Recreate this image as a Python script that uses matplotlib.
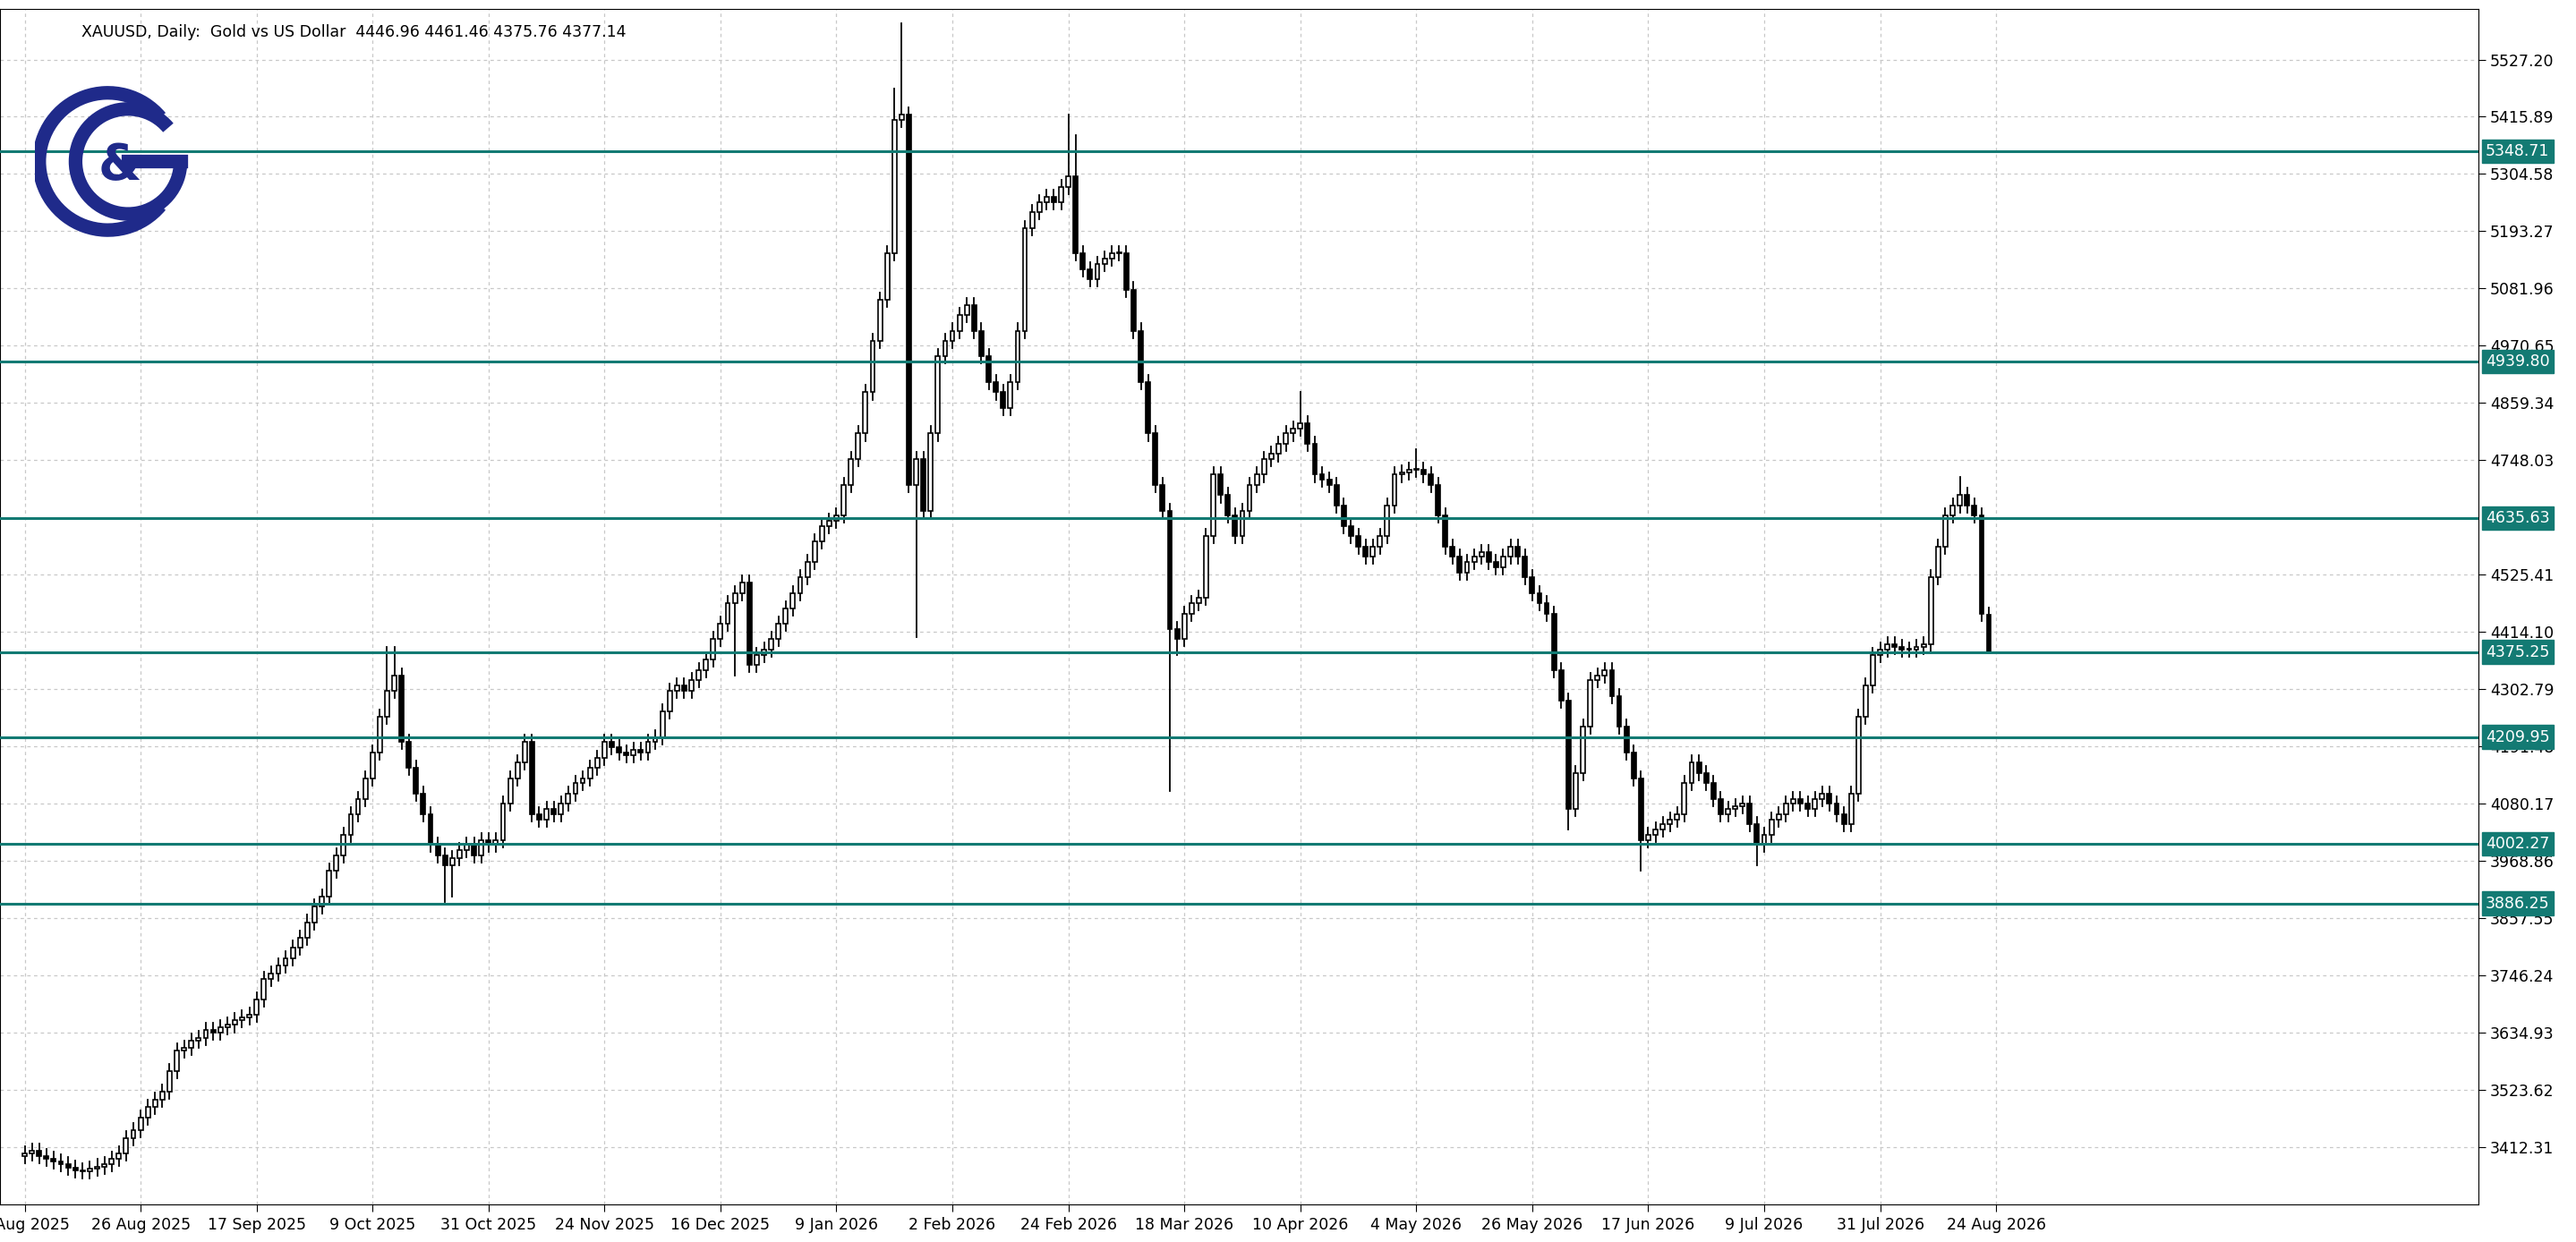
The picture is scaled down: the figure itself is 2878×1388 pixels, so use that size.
import numpy as np
import matplotlib
matplotlib.use("Agg")
import matplotlib.pyplot as plt
from matplotlib.patches import Rectangle, Arc

# closing prices, daily XAUUSD
closes = [
    3400, 3405, 3395, 3390, 3385, 3380, 3372, 3368, 3365, 3370,
    3375, 3380, 3390, 3400, 3430, 3445, 3470, 3490, 3505, 3520,
    3560, 3600, 3605, 3620, 3625, 3640, 3635, 3645, 3650, 3660,
    3665, 3670, 3700, 3740, 3750, 3765, 3780, 3800, 3820, 3850,
    3880, 3900, 3950, 3980, 4020, 4060, 4090, 4130, 4180, 4250,
    4300, 4330, 4200, 4150, 4100, 4060, 4000, 3980, 3960, 3975,
    3990, 4000, 3980, 4010, 4000, 4010, 4080, 4130, 4160, 4200,
    4060, 4050, 4070, 4060, 4080, 4100, 4120, 4130, 4150, 4170,
    4200, 4190, 4180, 4175, 4185, 4180, 4200, 4210, 4260, 4300,
    4310, 4300, 4320, 4340, 4360, 4400, 4430, 4470, 4490, 4510,
    4350, 4370, 4380, 4400, 4430, 4460, 4490, 4520, 4550, 4590,
    4620, 4630, 4640, 4700, 4750, 4800, 4880, 4980, 5060, 5150,
    5410, 5420, 4700, 4750, 4650, 4800, 4950, 4980, 5000, 5030,
    5050, 5000, 4950, 4900, 4880, 4850, 4900, 5000, 5200, 5230,
    5250, 5260, 5250, 5280, 5300, 5150, 5120, 5100, 5130, 5140,
    5150, 5150, 5080, 5000, 4900, 4800, 4700, 4650, 4420, 4400,
    4450, 4470, 4480, 4600, 4720, 4680, 4640, 4600, 4650, 4700,
    4720, 4750, 4760, 4780, 4800, 4810, 4820, 4780, 4720, 4710,
    4700, 4660, 4620, 4600, 4580, 4560, 4580, 4600, 4660, 4720,
    4725, 4730, 4730, 4720, 4700, 4640, 4580, 4560, 4530, 4550,
    4560, 4570, 4550, 4540, 4560, 4580, 4560, 4520, 4490, 4470,
    4450, 4340, 4280, 4070, 4140, 4230, 4320, 4330, 4340, 4290,
    4230, 4180, 4130, 4010, 4020, 4030, 4040, 4050, 4060, 4120,
    4160, 4140, 4120, 4090, 4060, 4070, 4075, 4080, 4040, 4000,
    4020, 4050, 4060, 4080, 4090, 4080, 4070, 4090, 4100, 4080,
    4060, 4040, 4100, 4250, 4310, 4370, 4380, 4390, 4385, 4380,
    4380, 4385, 4390, 4520, 4580, 4640, 4660, 4680, 4660, 4640,
    4450, 4377.14,
]
first_open = 3395
last_ohlc = [4446.96, 4461.46, 4375.76, 4377.14]
# notable wicks: index -> high / low
big_highs = {50: 4385, 51: 4385, 120: 5470, 121: 5597, 144: 5420, 145: 5380, 176: 4880, 192: 4770, 267: 4715}
big_lows = {58: 3890, 59: 3900, 123: 4405, 124: 4650, 158: 4105, 159: 4370, 213: 4030, 223: 3950, 239: 3960, 98: 4330}

levels = [5348.71, 4939.80, 4635.63, 4375.25, 4209.95, 4002.27, 3886.25]
price_ticks = [3412.31, 3523.62, 3634.93, 3746.24, 3857.55, 3968.86, 4080.17, 4191.48,
               4302.79, 4414.10, 4525.41, 4748.03, 4859.34, 4970.65, 5081.96,
               5193.27, 5304.58, 5415.89, 5527.20]
date_labels = ["4 Aug 2025", "26 Aug 2025", "17 Sep 2025", "9 Oct 2025", "31 Oct 2025",
               "24 Nov 2025", "16 Dec 2025", "9 Jan 2026", "2 Feb 2026", "24 Feb 2026",
               "18 Mar 2026", "10 Apr 2026", "4 May 2026", "26 May 2026", "17 Jun 2026",
               "9 Jul 2026", "31 Jul 2026", "24 Aug 2026"]

teal = "#137a73"
fig = plt.figure(figsize=(28.78, 13.88), dpi=100)
ax = fig.add_axes([0.0, 0.03, 0.962, 0.963])

n = len(closes)
opens = [first_open] + closes[:-1]
opens[-1] = last_ohlc[0]
for i in range(n):
    o, c = opens[i], closes[i]
    hi = max(o, c) + 14
    lo = min(o, c) - 14
    if i == n - 1:
        hi, lo = last_ohlc[1], last_ohlc[2]
    hi = max(hi, big_highs.get(i, hi))
    lo = min(lo, big_lows.get(i, lo))
    ax.plot([i, i], [lo, hi], color="black", lw=1.3, zorder=2)
    bull = c >= o
    ax.add_patch(Rectangle((i - 0.3, min(o, c)), 0.6, max(abs(c - o), 1.5),
                           facecolor="white" if bull else "black",
                           edgecolor="black", lw=1.2, zorder=3))

for lv in levels:
    ax.axhline(lv, color=teal, lw=2.2, zorder=4)

ax.set_xlim(-3.4, 338.5)
ax.set_ylim(3300.5, 5626)
ax.grid(True, color="#c8c8c8", ls=(0, (3, 3)), lw=0.9)
ax.set_xticks(np.arange(len(date_labels)) * 16)
ax.set_xticklabels(date_labels, fontsize=12.5)
ax.yaxis.tick_right()
ax.set_yticks(price_ticks)
ax.set_yticklabels([f"{t:.2f}" for t in price_ticks], fontsize=12.5)
ax.tick_params(length=6, color="black")
for lv in levels:
    ax.text(1.003, lv, f"{lv:.2f}", transform=ax.get_yaxis_transform(), fontsize=12.5,
            color="white", va="center", ha="left", zorder=6,
            bbox=dict(boxstyle="square,pad=0.25", fc=teal, ec=teal))
for s in ax.spines.values():
    s.set_color("black")

ax.text(0.033, 0.987, "XAUUSD, Daily:  Gold vs US Dollar  4446.96 4461.46 4375.76 4377.14",
        transform=ax.transAxes, fontsize=12.5, va="top", ha="left")

# logo
lax = fig.add_axes([0.01, 0.805, 0.07, 0.13])
lax.set_xlim(-1, 1)
lax.set_ylim(-1, 1)
lax.set_aspect("equal")
lax.axis("off")
navy = "#1f2a8a"
lax.add_patch(Arc((-0.1, 0), 1.7, 1.7, theta1=40, theta2=320, lw=11, color=navy))
lax.add_patch(Arc((0.15, 0), 1.3, 1.3, theta1=40, theta2=360, lw=11, color=navy))
lax.plot([0.15, 0.8], [0, 0], color=navy, lw=11)
lax.text(0.05, -0.05, "&", fontsize=40, color=navy, ha="center", va="center", fontweight="bold")

fig.savefig("out.png")
